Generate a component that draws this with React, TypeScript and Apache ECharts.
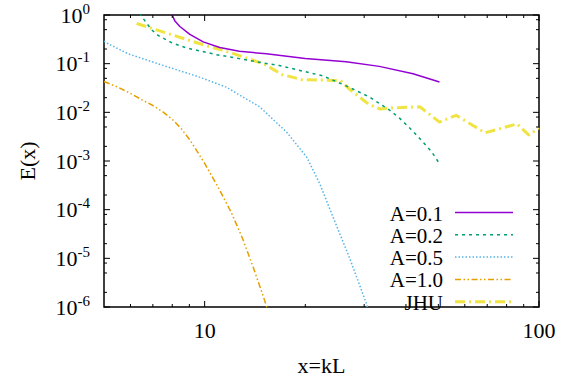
import React, { useEffect, useRef } from "react";
import * as echarts from "echarts";

// ---- data ----
const seriesNames = ["A=0.1", "A=0.2", "A=0.5", "A=1.0", "JHU"];

const a01X = [7.9, 8.0, 8.15, 8.43, 9.03, 9.9, 11.1, 12.7, 15.3, 20, 26.5, 33.3, 42, 50.4];
const a01Y = [1.3, 1.0, 0.75, 0.58, 0.4, 0.28, 0.215, 0.18, 0.159, 0.128, 0.11, 0.088, 0.062, 0.042];

const a02X = [6.4, 6.47, 6.93, 7.26, 8.05, 8.93, 9.8, 10.8, 12.7, 14.9, 16.7, 19.7, 22.6, 26.5, 31.1, 35.6, 38.2, 41.4, 44.4, 47.7, 50.4];
const a02Y = [1.1, 0.95, 0.5, 0.38, 0.26, 0.206, 0.18, 0.154, 0.127, 0.104, 0.092, 0.07, 0.056, 0.035, 0.0207, 0.0113, 0.0077, 0.0045, 0.0027, 0.00156, 0.00088];

const a05X = [5, 5.1, 5.9, 7.4, 9.5, 11.6, 14.6, 17.6, 20.2, 22.1, 24.1, 27.1, 30.5, 31];
const a05Y = [0.29, 0.265, 0.16, 0.095, 0.055, 0.033, 0.013, 0.0039, 0.0012, 0.00034, 7.6e-5, 1.04e-5, 1.15e-6, 7e-7];

const a10X = [5, 5.5, 6, 6.5, 7, 7.5, 8, 8.5, 9, 9.5, 10, 11, 12, 13, 14, 15, 15.5];
const a10Y = [0.043, 0.033, 0.0245, 0.018, 0.0138, 0.0102, 0.0072, 0.00468, 0.0028, 0.00158, 0.00089, 0.00028, 8.9e-5, 2.5e-5, 6.3e-6, 1.6e-6, 7.9e-7];

const jhuX = [6.26, 8, 10, 12, 14, 15.3, 17, 19.5, 25.5, 27.1, 31, 33.5, 35.6, 44, 50.4, 56.5, 69, 86, 93.3, 100];
const jhuY = [0.67, 0.39, 0.24, 0.167, 0.117, 0.093, 0.06, 0.047, 0.045, 0.03, 0.0145, 0.0117, 0.0122, 0.013, 0.0063, 0.0087, 0.0038, 0.0058, 0.0034, 0.0048];

const xMajorTicks = [10, 100];
const xMinorTicks = [6, 7, 8, 9, 20, 30, 40, 50, 60, 70, 80, 90];
const yMajorTicks = [1e-6, 1e-5, 1e-4, 1e-3, 1e-2, 1e-1, 1];
const yMinorTicks = [
  2e-6, 5e-6, 8e-6, 2e-5, 5e-5, 8e-5, 2e-4, 5e-4, 8e-4,
  2e-3, 5e-3, 8e-3, 2e-2, 5e-2, 8e-2, 2e-1, 5e-1, 8e-1,
];
const xLabelValues = [10, 100];

const X_MIN = 5;
const X_MAX = 100;
const Y_MIN = 1e-6;
const Y_MAX = 1;

// ---- styles ----
const FONT = "Liberation Serif, Times New Roman, serif";
const FS = 22;
const LEGEND_FS = 21;
const colors = ["#9400d3", "#009e73", "#56b4e9", "#e69f00", "#f0e442"];
const widths = [1.5, 1.5, 1.5, 1.5, 3];
const dashes: any[] = ["solid", [3, 4], [1.5, 2], [6, 2.5, 1.5, 2.5, 1.5, 2.5], [10, 4, 2, 4]];

const zip = (xs: number[], ys: number[]) => xs.map((x, i) => [x, ys[i]]);

export default function App() {
  const ref = useRef<HTMLDivElement>(null);
  useEffect(() => {
    if (!ref.current) return;
    const chart = echarts.init(ref.current, undefined, { renderer: "svg" });

    const datas = [zip(a01X, a01Y), zip(a02X, a02Y), zip(a05X, a05Y), zip(a10X, a10Y), zip(jhuX, jhuY)];

    const tickData: number[][] = [];
    xMajorTicks.forEach((v) => tickData.push([v, Y_MIN, 0, 6]));
    xMinorTicks.forEach((v) => tickData.push([v, Y_MIN, 0, 3]));
    yMajorTicks.forEach((v) => tickData.push([X_MIN, v, 1, 6]));
    yMinorTicks.forEach((v) => tickData.push([X_MIN, v, 1, 3]));

    const legendTop = 212.5;
    const legendStep = 22.3;
    const graphics: any[] = [];
    seriesNames.forEach((name, i) => {
      const y = legendTop + i * legendStep;
      graphics.push({
        type: "text",
        x: 443,
        y: y + 1,
        style: {
          text: name,
          fontFamily: FONT,
          fontSize: LEGEND_FS,
          lineHeight: 20,
          fill: "#000",
          align: "right",
          verticalAlign: "middle",
        },
      });
      graphics.push({
        type: "line",
        shape: { x1: 455, y1: y, x2: 513, y2: y },
        style: {
          stroke: colors[i],
          lineWidth: widths[i],
          lineDash: dashes[i] === "solid" ? null : dashes[i],
        },
      });
    });

    const series: any[] = datas.map((d, i) => ({
      name: seriesNames[i],
      type: "line",
      data: d,
      showSymbol: false,
      symbol: "none",
      smooth: false,
      clip: true,
      z: 2 + (i === 4 ? 0 : 1),
      lineStyle: { color: colors[i], width: widths[i], type: dashes[i] },
    }));

    series.push({
      type: "custom",
      data: tickData,
      encode: { x: 0, y: 1 },
      clip: false,
      z: 10,
      silent: true,
      renderItem: (params: any, api: any) => {
        const kind = api.value(2);
        const len = api.value(3);
        const style = { stroke: "#000", lineWidth: 1 };
        if (kind === 0) {
          const v = api.value(0);
          const b = api.coord([v, Y_MIN]);
          const t = api.coord([v, Y_MAX]);
          return {
            type: "group",
            children: [
              { type: "line", shape: { x1: b[0], y1: b[1], x2: b[0], y2: b[1] - len }, style },
              { type: "line", shape: { x1: t[0], y1: t[1], x2: t[0], y2: t[1] + len }, style },
            ],
          };
        }
        const v = api.value(1);
        const l = api.coord([X_MIN, v]);
        const r = api.coord([X_MAX, v]);
        return {
          type: "group",
          children: [
            { type: "line", shape: { x1: l[0], y1: l[1], x2: l[0] + len, y2: l[1] }, style },
            { type: "line", shape: { x1: r[0], y1: r[1], x2: r[0] - len, y2: r[1] }, style },
          ],
        };
      },
    });

    chart.setOption({
      animation: false,
      backgroundColor: "#fff",
      textStyle: { fontFamily: FONT },
      grid: {
        left: 104,
        right: 31,
        top: 15,
        bottom: 64,
        show: true,
        borderColor: "#000",
        borderWidth: 1.5,
        backgroundColor: "transparent",
      },
      xAxis: {
        type: "log",
        logBase: 10,
        min: X_MIN,
        max: X_MAX,
        name: "x=kL",
        nameLocation: "middle",
        nameGap: 47,
        nameTextStyle: { fontFamily: FONT, fontSize: FS, color: "#000" },
        axisLine: { show: false },
        axisTick: { show: false },
        splitLine: { show: false },
        minorTick: { show: false },
        axisLabel: {
          color: "#000",
          fontFamily: FONT,
          fontSize: FS,
          margin: 12,
          showMinLabel: true,
          showMaxLabel: true,
          formatter: (v: number) => {
            const hit = xLabelValues.find((t) => Math.abs(t - v) / t < 1e-6);
            return hit !== undefined ? String(hit) : "";
          },
        },
      },
      yAxis: {
        type: "log",
        logBase: 10,
        min: Y_MIN,
        max: Y_MAX,
        name: "E(x)",
        nameLocation: "middle",
        nameGap: 66,
        nameRotate: 90,
        nameTextStyle: { fontFamily: FONT, fontSize: FS, color: "#000" },
        axisLine: { show: false },
        axisTick: { show: false },
        splitLine: { show: false },
        axisLabel: {
          color: "#000",
          margin: 14,
          formatter: (v: number) => {
            const e = Math.round(Math.log10(v));
            return `{b|10}{s|${e}}`;
          },
          rich: {
            b: { fontFamily: FONT, fontSize: FS, color: "#000" },
            s: { fontFamily: FONT, fontSize: 15, color: "#000", padding: [0, 0, 13, 0] },
          },
        },
      },
      series,
      graphic: graphics,
    });
    return () => chart.dispose();
  }, []);
  return (
    <div
      ref={ref}
      style={{ position: "fixed", left: 0, top: 0, width: 570, height: 381, background: "#fff" }}
    />
  );
}
